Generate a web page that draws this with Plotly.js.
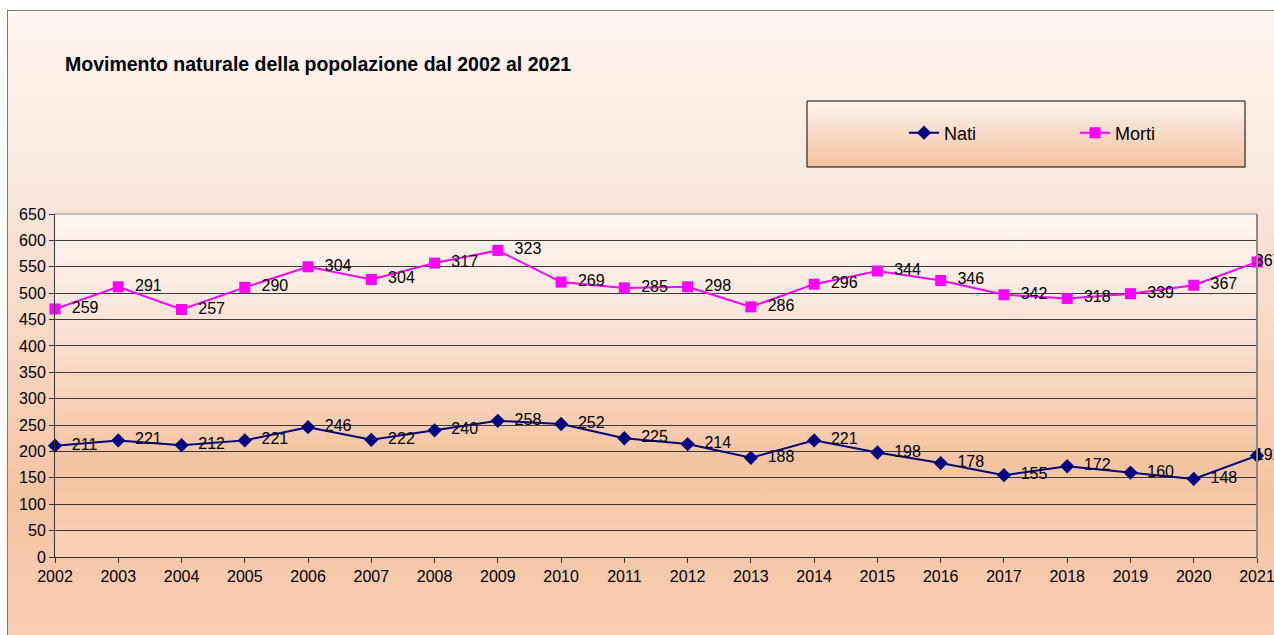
<!DOCTYPE html>
<html>
<head>
<meta charset="utf-8">
<script src="https://cdn.plot.ly/plotly-3.0.1.min.js"></script>
<style>
  html, body { margin: 0; padding: 0; background: #ffffff; }
  #frame {
    position: absolute; left: 7px; top: 10px; width: 1300px; height: 640px;
    border: 1px solid #7a7a7a; box-sizing: border-box;
    background: linear-gradient(to bottom, #fdf6f2 0%, #f9dccb 45%, #f5c3a1 76%, #f8cfb5 100%);
  }
  #chart { position: absolute; left: 0; top: 0; width: 1274px; height: 635px; }
</style>
</head>
<body>
<div id="frame"></div>
<div id="chart"></div>
<script>
var anni = [2002, 2003, 2004, 2005, 2006, 2007, 2008, 2009, 2010, 2011,
            2012, 2013, 2014, 2015, 2016, 2017, 2018, 2019, 2020, 2021];
var nati = [211, 221, 212, 221, 246, 222, 240, 258, 252, 225,
            214, 188, 221, 198, 178, 155, 172, 160, 148, 192];
var morti = [259, 291, 257, 290, 304, 304, 317, 323, 269, 285,
             298, 286, 296, 344, 346, 342, 318, 339, 367, 367];
var yTicks = [0, 50, 100, 150, 200, 250, 300, 350, 400, 450, 500, 550, 600, 650];

function gradSvg(stops) {
  var s = '<svg xmlns="http://www.w3.org/2000/svg" width="100" height="100" preserveAspectRatio="none">' +
    '<defs><linearGradient id="g" x1="0" y1="0" x2="0" y2="1">';
  stops.forEach(function (p) { s += '<stop offset="' + p[0] + '" stop-color="' + p[1] + '"/>'; });
  s += '</linearGradient></defs><rect width="100" height="100" fill="url(#g)"/></svg>';
  return 'data:image/svg+xml;base64,' + btoa(s);
}

// data labels sit a bit right of the marker; the last one starts on the marker (cut at the edge)
var last = anni.length - 1;
function labels(vals) {
  return vals.map(function (v, i) {
    return (i < last ? '\u00a0\u00a0' : '\u00a0\u00a0\u00a0\u00a0\u00a0') + v;
  });
}
var labelPos = anni.map(function (a, i) { return i < last ? 'middle right' : 'middle center'; });

var plotBg = gradSvg([[0, '#fdf7f3'], [0.35, '#fae1d2'], [0.72, '#f5c3a0'], [1, '#f8d0b6']]);
var legendBg = gradSvg([[0, '#fdf5ef'], [0.5, '#f8d9c5'], [1, '#f5c3a1']]);

var labelFont = {family: 'Arial, Liberation Sans, sans-serif', size: 16, color: '#000000'};

var traceNati = {
  x: anni, y: nati, name: 'Nati', type: 'scatter',
  mode: 'lines+markers+text', stackgroup: 'pop', fill: 'none',
  text: labels(nati), textposition: labelPos, textfont: labelFont,
  line: {color: '#000080', width: 2},
  marker: {color: '#000080', symbol: 'diamond', size: 11},
  cliponaxis: false, hoverinfo: 'none'
};

var traceMorti = {
  x: anni, y: morti, name: 'Morti', type: 'scatter',
  mode: 'lines+markers+text', stackgroup: 'pop', fill: 'none',
  text: labels(morti), textposition: labelPos, textfont: labelFont,
  line: {color: '#ff00ff', width: 2},
  marker: {color: '#ff00ff', symbol: 'square', size: 11},
  cliponaxis: false, hoverinfo: 'none'
};

var layout = {
  width: 1274, height: 635,
  margin: {l: 55, r: 17, t: 214, b: 78},
  paper_bgcolor: 'rgba(0,0,0,0)',
  plot_bgcolor: 'rgba(0,0,0,0)',
  font: {family: 'Arial, Liberation Sans, sans-serif', size: 16, color: '#000000'},
  title: {
    text: '<b>Movimento naturale della popolazione dal 2002 al 2021</b>',
    font: {size: 19.5, color: '#000000'},
    x: 65 / 1274, xanchor: 'left', xref: 'container',
    y: 1 - 64 / 635, yanchor: 'middle', yref: 'container'
  },
  showlegend: true,
  legend: {
    orientation: 'h', x: (904 - 55) / 1202, xref: 'paper', y: 1 - 133 / 635, yref: 'container',
    xanchor: 'left', yanchor: 'middle',
    bgcolor: 'rgba(0,0,0,0)', borderwidth: 0,
    font: {size: 18, color: '#000000'},
    entrywidth: 126, entrywidthmode: 'pixels', traceorder: 'normal'
  },
  xaxis: {
    range: [2002, 2021], tickmode: 'array', tickvals: anni, ticktext: anni.map(String),
    showgrid: false, zeroline: false,
    showline: true, linecolor: '#333333', linewidth: 1,
    ticks: 'outside', ticklen: 5, tickcolor: '#333333',
    tickfont: {size: 16}, ticklabeloverflow: 'allow'
  },
  yaxis: {
    range: [0, 650], tickmode: 'array', tickvals: yTicks, ticktext: yTicks.map(String),
    showgrid: true, gridcolor: '#3a3a3a', gridwidth: 1, zeroline: false,
    showline: true, linecolor: '#333333', linewidth: 1,
    ticks: 'outside', ticklen: 5, tickcolor: '#333333',
    tickfont: {size: 16}
  },
  images: [
    {source: plotBg, xref: 'paper', yref: 'paper', x: 0, y: 1, sizex: 1, sizey: 1,
     xanchor: 'left', yanchor: 'top', sizing: 'stretch', layer: 'below'},
    {source: legendBg, xref: 'paper', yref: 'paper',
     x: (807 - 55) / 1202, y: (635 - 78 - 101) / 343, sizex: 438 / 1202, sizey: 66 / 343,
     xanchor: 'left', yanchor: 'top', sizing: 'stretch', layer: 'below'}
  ],
  shapes: [
    {type: 'rect', xref: 'paper', yref: 'paper',
     x0: (807 - 55) / 1202, x1: (1245 - 55) / 1202,
     y0: (635 - 78 - 167) / 343, y1: (635 - 78 - 101) / 343,
     line: {color: '#000000', width: 1}, fillcolor: 'rgba(0,0,0,0)', layer: 'below'},
    {type: 'line', xref: 'paper', yref: 'paper', x0: 0, x1: 1, y0: 1, y1: 1,
     line: {color: '#8a8a8a', width: 1}},
    {type: 'line', xref: 'paper', yref: 'paper', x0: 1, x1: 1, y0: 0, y1: 1,
     line: {color: '#8a8a8a', width: 2}}
  ]
};

Plotly.newPlot('chart', [traceNati, traceMorti], layout, {displayModeBar: false, staticPlot: true});
</script>
</body>
</html>
